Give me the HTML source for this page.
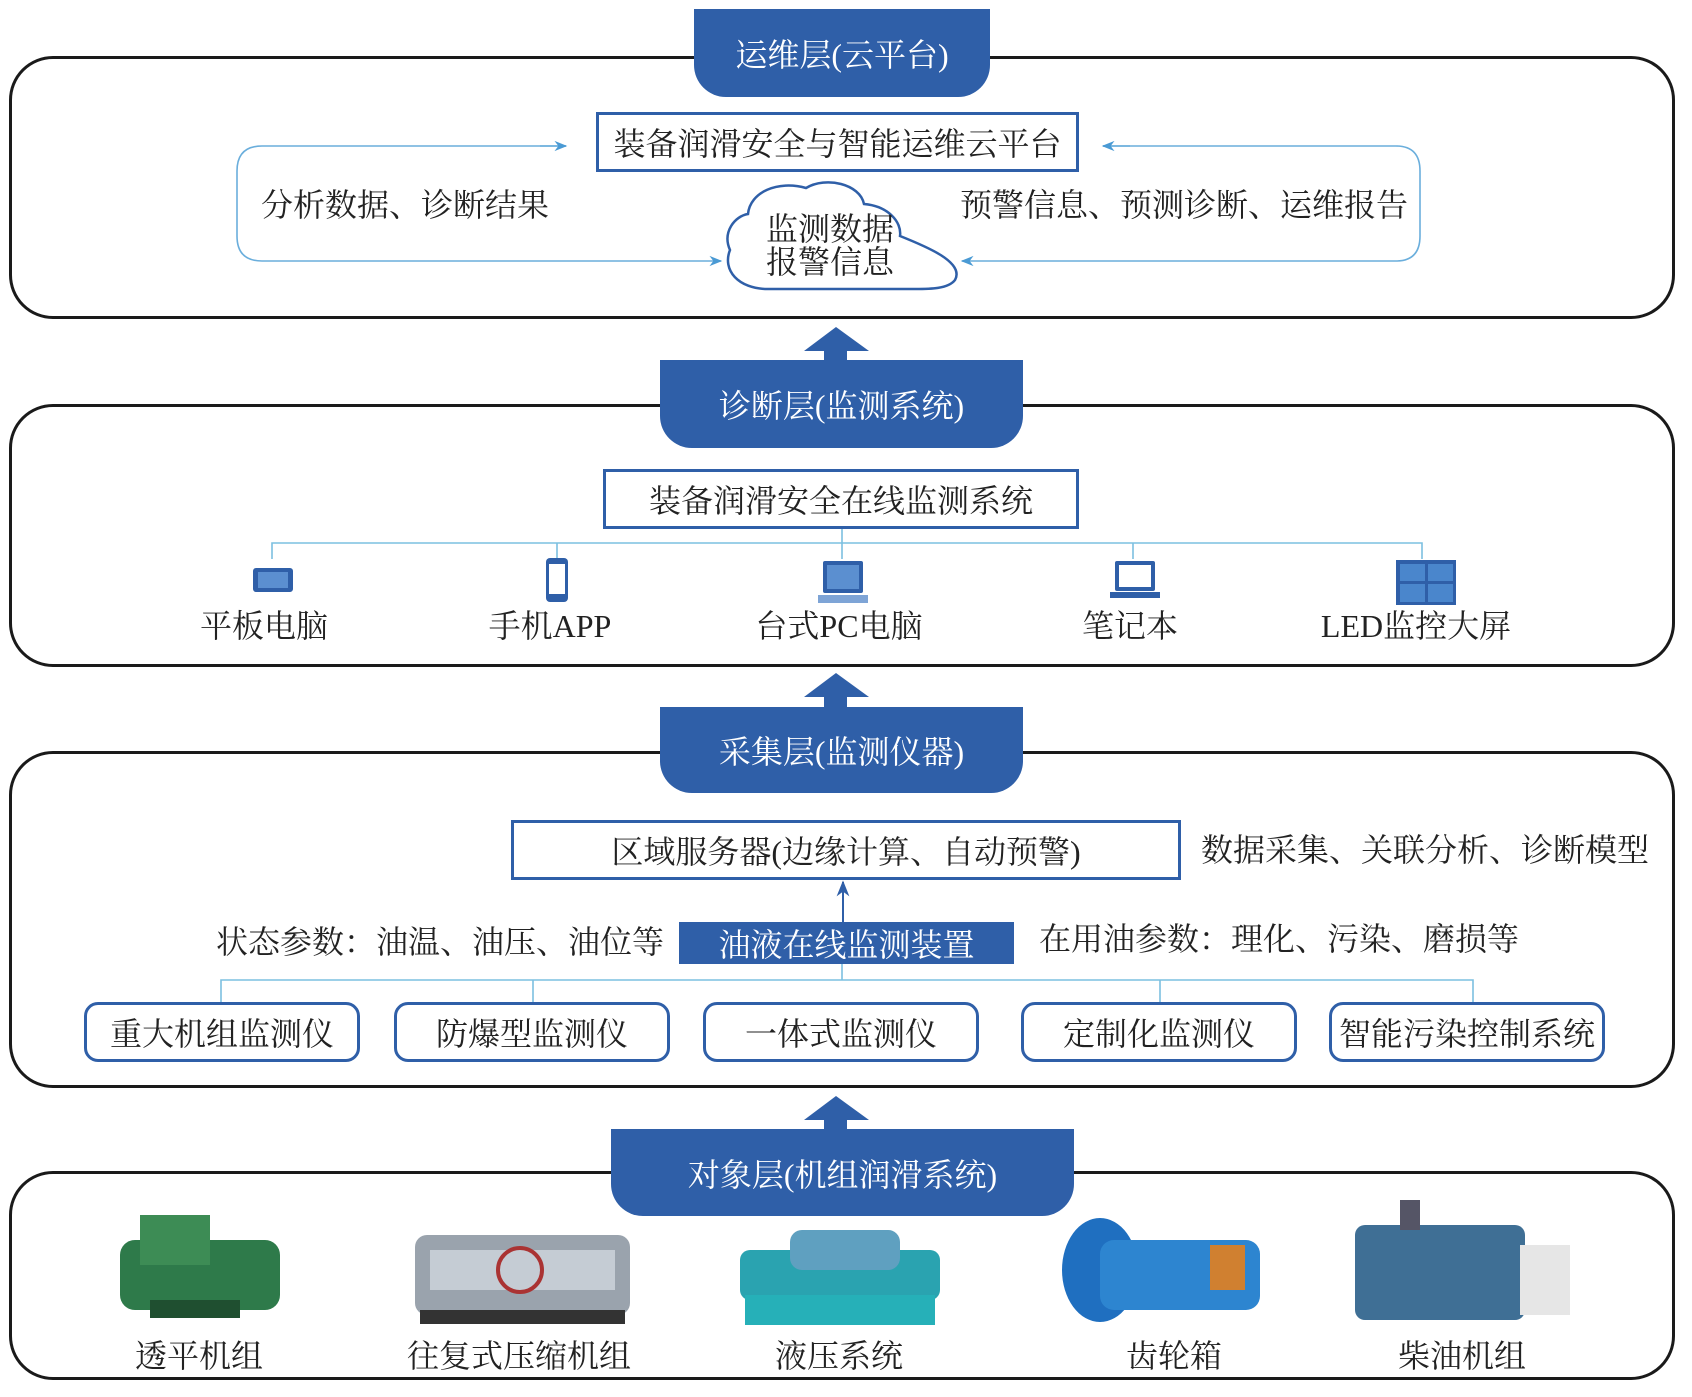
<!DOCTYPE html>
<html><head><meta charset="utf-8"><style>
body{margin:0;width:1692px;height:1397px;background:#fff;position:relative;overflow:hidden;font-family:"Liberation Serif","Noto Serif CJK SC",serif;color:#222}
.a{position:absolute}
.layer{position:absolute;left:9px;width:1666px;border:3px solid #1a1a1a;border-radius:44px;box-sizing:border-box}
.tab{position:absolute;background:#2f5fa8;color:#fff;font-size:32px;display:flex;align-items:center;justify-content:center;border-radius:0 0 32px 32px}
.box{position:absolute;border:3px solid #2f5fa8;box-sizing:border-box;display:flex;align-items:center;justify-content:center;font-size:32px;background:#fff}
.rb{position:absolute;border:3px solid #2f5fa8;border-radius:14px;box-sizing:border-box;display:flex;align-items:center;justify-content:center;font-size:32px;background:#fff;top:1002px;height:60px;width:276px}
.t{position:absolute;font-size:32px;white-space:nowrap;line-height:1}
.c{transform:translateX(-50%)}
</style></head><body>
<div class="layer" style="top:56px;height:263px"></div>
<div class="layer" style="top:404px;height:263px"></div>
<div class="layer" style="top:751px;height:337px"></div>
<div class="layer" style="top:1171px;height:209px"></div>

<svg class="a" style="left:0;top:0" width="1692" height="1397">
<defs><marker id="m" viewBox="0 0 10 10" refX="9" refY="5" markerWidth="8" markerHeight="8" orient="auto"><path d="M0,1 L10,5 L0,9 L3,5z" fill="#4a9ad4"/></marker>
<marker id="m2" viewBox="0 0 10 10" refX="9" refY="5" markerWidth="8" markerHeight="10" orient="auto"><path d="M0,1 L10,5 L0,9 L3,5z" fill="#2f5fa8"/></marker></defs>
<g fill="none" stroke="#6aaedc" stroke-width="1.6">
<path d="M566,146 H262 Q237,146 237,171 V236 Q237,261 262,261 H721" marker-end="url(#m)"/>
<path d="M1103,146 H1396 Q1420,146 1420,171 V236 Q1420,261 1396,261 H962" marker-end="url(#m)"/>
<path d="M540,146 H566" marker-end="url(#m)"/>
<path d="M1130,146 H1103" marker-end="url(#m)"/>
</g>
<!-- cloud -->
<path d="M768,289 C738,289 722,270 730,250 C722,232 735,216 748,214 C750,192 778,180 806,188 C826,176 860,184 864,204 C888,206 902,222 900,236 C925,246 965,262 955,280 C948,289 930,289 915,289 Z" fill="#fff" stroke="#2f5fa8" stroke-width="2.5"/>
<g fill="#2f5fa8">
<path d="M804,351 L836,327 L869,351 L847,351 L847,374 L824,374 L824,351Z"/>
<path d="M804,697 L836,673 L869,697 L847,697 L847,720 L824,720 L824,697Z"/>
<path d="M804,1120 L836,1096 L869,1120 L847,1120 L847,1140 L824,1140 L824,1120Z"/>
</g>
<g stroke="#7cc0e0" stroke-width="1.6" fill="none">
<path d="M842,529 V543 M272,559 V543 H1422 V559 M557,543 V559 M842,543 V559 M1133,543 V559"/>
<path d="M842,964 V980 M221,1002 V980 H1473 V1002 M533,980 V1002 M1160,980 V1002"/>
</g>
<path d="M843,922 V882" stroke="#2f5fa8" stroke-width="2" marker-end="url(#m2)"/>
<!-- icons -->
<g fill="#2f5fa8">
<rect x="253" y="568" width="40" height="24" rx="3"/><rect x="258" y="572" width="30" height="16" fill="#5b8fd0"/>
<rect x="546" y="558" width="22" height="44" rx="4"/><rect x="549" y="564" width="16" height="30" fill="#fff"/>
<rect x="823" y="561" width="40" height="32" rx="2"/><rect x="827" y="565" width="32" height="24" fill="#5b8fd0"/><rect x="818" y="595" width="50" height="8" fill="#7ea4d6"/>
<rect x="1115" y="561" width="40" height="30" rx="2"/><rect x="1119" y="565" width="32" height="22" fill="#fff"/><rect x="1110" y="592" width="50" height="6"/>
<rect x="1396" y="560" width="60" height="45"/><g fill="#4a86cc"><rect x="1400" y="564" width="25" height="17"/><rect x="1428" y="564" width="25" height="17"/><rect x="1400" y="584" width="25" height="18"/><rect x="1428" y="584" width="25" height="18"/></g>
</g>
<!-- machines -->
<g>
<rect x="120" y="1240" width="160" height="70" rx="15" fill="#2e7a4a"/><rect x="140" y="1215" width="70" height="50" fill="#3d8c55"/><rect x="150" y="1300" width="90" height="18" fill="#1f4f30"/>
<rect x="415" y="1235" width="215" height="80" rx="12" fill="#9aa3ad"/><rect x="430" y="1250" width="185" height="40" fill="#c5ccd4"/><circle cx="520" cy="1270" r="22" fill="none" stroke="#a33" stroke-width="4"/><rect x="420" y="1310" width="205" height="14" fill="#333"/>
<rect x="740" y="1250" width="200" height="50" rx="10" fill="#2aa3b0"/><rect x="790" y="1230" width="110" height="40" rx="12" fill="#5fa0c0"/><rect x="745" y="1295" width="190" height="30" fill="#26b0b8"/>
<ellipse cx="1100" cy="1270" rx="38" ry="52" fill="#1f6fc0"/><rect x="1100" y="1240" width="160" height="70" rx="14" fill="#2d85d0"/><rect x="1210" y="1245" width="35" height="45" fill="#d08030"/>
<rect x="1355" y="1225" width="170" height="95" rx="10" fill="#3f6f95"/><rect x="1520" y="1245" width="50" height="70" fill="#e6e6e6"/><rect x="1400" y="1200" width="20" height="30" fill="#556"/>
</g>
</svg>

<div class="tab" style="left:694px;top:9px;width:296px;height:88px">运维层(云平台)</div>
<div class="tab" style="left:660px;top:360px;width:363px;height:88px">诊断层(监测系统)</div>
<div class="tab" style="left:660px;top:707px;width:363px;height:86px">采集层(监测仪器)</div>
<div class="tab" style="left:611px;top:1129px;width:463px;height:87px">对象层(机组润滑系统)</div>

<div class="box" style="left:596px;top:112px;width:483px;height:60px">装备润滑安全与智能运维云平台</div>
<div class="t" style="left:261px;top:189px">分析数据、诊断结果</div>
<div class="t" style="left:960px;top:189px">预警信息、预测诊断、运维报告</div>
<div class="t" style="left:766px;top:213px">监测数据</div>
<div class="t" style="left:766px;top:246px">报警信息</div>

<div class="box" style="left:603px;top:469px;width:476px;height:60px">装备润滑安全在线监测系统</div>
<div class="t c" style="left:264px;top:610px">平板电脑</div>
<div class="t c" style="left:550px;top:610px">手机APP</div>
<div class="t c" style="left:839px;top:610px">台式PC电脑</div>
<div class="t c" style="left:1130px;top:610px">笔记本</div>
<div class="t c" style="left:1416px;top:610px">LED监控大屏</div>

<div class="box" style="left:511px;top:820px;width:670px;height:60px">区域服务器(边缘计算、自动预警)</div>
<div class="t" style="left:1201px;top:834px">数据采集、关联分析、诊断模型</div>
<div class="t" style="left:216px;top:926px">状态参数：油温、油压、油位等</div>
<div class="a" style="left:679px;top:922px;width:335px;height:42px;background:#2f5fa8;color:#fff;font-size:32px;display:flex;align-items:center;justify-content:center">油液在线监测装置</div>
<div class="t" style="left:1039px;top:923px">在用油参数：理化、污染、磨损等</div>
<div class="rb" style="left:84px">重大机组监测仪</div>
<div class="rb" style="left:394px">防爆型监测仪</div>
<div class="rb" style="left:703px">一体式监测仪</div>
<div class="rb" style="left:1021px">定制化监测仪</div>
<div class="rb" style="left:1329px">智能污染控制系统</div>

<div class="t c" style="left:199px;top:1340px">透平机组</div>
<div class="t c" style="left:519px;top:1340px">往复式压缩机组</div>
<div class="t c" style="left:839px;top:1340px">液压系统</div>
<div class="t c" style="left:1174px;top:1340px">齿轮箱</div>
<div class="t c" style="left:1462px;top:1340px">柴油机组</div>
</body></html>
